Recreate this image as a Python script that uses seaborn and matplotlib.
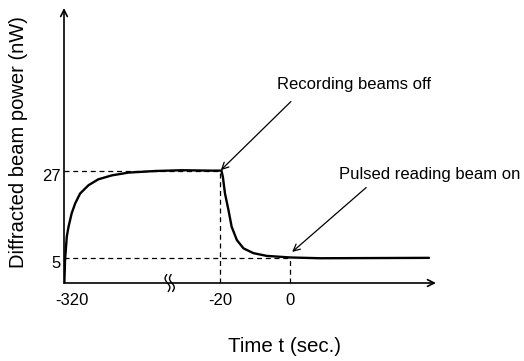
import matplotlib
matplotlib.use("Agg")
import matplotlib.pyplot as plt
import matplotlib.transforms as mtransforms
import seaborn as sns
import pandas as pd
import numpy as np

# x is in axis units of the broken time axis (left segment compressed; -320 s sits at -64.6)
t_axis = [-64.5, -64.3, -63.8, -63.3, -62.4, -61.4, -60.0, -57.6, -54.8, -50.9,
          -46.2, -38.6, -31.0, -22.9, -19.6,
          -19.2, -18.6, -17.6, -16.7, -15.2, -13.3, -10.5, -6.7, 0.0, 8.6, 39.7]
power = [-1.27, 4.6, 10.5, 13.0, 16.4, 18.9, 21.4, 23.5, 25.0, 26.0,
         26.7, 27.1, 27.3, 27.2, 27.2,
         25.6, 21.4, 17.2, 13.0, 9.6, 7.5, 6.3, 5.6, 5.2, 5.0, 5.1]
xtick_pos = [-64.6, -20.0, 0.0]
xtick_labels = ["-320", "-20", "0"]
ytick_vals = [5, 27]
off_event = (-20.0, 27.0)
on_event = (0.0, 5.0)
break_pos = -34.4

sns.set_style("white")
plt.rcParams["font.family"] = ["Liberation Sans", "DejaVu Sans"]
plt.rcParams.update({"text.color": "black", "axes.labelcolor": "black",
                     "xtick.color": "black", "ytick.color": "black"})

fig = plt.figure(figsize=(5.24, 3.61), dpi=100)
ax = fig.add_axes([64 / 524, 1 - 283 / 361, (436 - 64) / 524, (283 - 8) / 361])

df = pd.DataFrame({"t": t_axis, "p": power})
sns.lineplot(data=df, x="t", y="p", ax=ax, color="black", lw=1.7, sort=False)
ax.lines[-1].set_solid_joinstyle("round")

xmin, xmax = -64.6, 41.7
ymin, ymax = -1.27, 68.4
ax.set_xlim(xmin, xmax)
ax.set_ylim(ymin, ymax)

dash = dict(color="black", lw=0.9, ls=(0, (4, 3)))
ax.plot([xmin, off_event[0]], [off_event[1]] * 2, **dash)
ax.plot([off_event[0]] * 2, [ymin, off_event[1]], **dash)
ax.plot([xmin, on_event[0]], [on_event[1]] * 2, **dash)
ax.plot([on_event[0]] * 2, [ymin, on_event[1]], **dash)

for sp in ax.spines.values():
    sp.set_visible(False)
arr = dict(arrowstyle="->", lw=1.2, color="black", shrinkA=0, shrinkB=0, mutation_scale=12)
ax.annotate("", xy=(0, 1), xytext=(0, 0), xycoords="axes fraction", arrowprops=arr)
ax.annotate("", xy=(1, 0), xytext=(0, 0), xycoords="axes fraction", arrowprops=arr)

# axis break mark (two small wavy strokes), drawn in pixel offsets around the break position
anchor = mtransforms.ScaledTranslation(break_pos, ymin, ax.transData)
trans = mtransforms.Affine2D().scale(0.72) + mtransforms.Affine2D().scale(1 / 72) \
    + fig.dpi_scale_trans + anchor
s = np.linspace(0, 1, 40)
for xoff in (-2.2, 2.2):
    xs = xoff - 2.0 * np.sin(2 * np.pi * s) + (s - 0.5) * 1.5
    ys = 8.5 - 17 * s
    ax.plot(xs, ys, color="black", lw=1.0, transform=trans, clip_on=False)

ax.set_xticks(xtick_pos)
ax.set_xticklabels(xtick_labels)
ax.set_yticks(ytick_vals)
ax.set_yticklabels([str(v) for v in ytick_vals])
ax.tick_params(axis="x", length=0, labelsize=12, pad=7.5, labelcolor="black")
ax.tick_params(axis="y", length=0, labelsize=12, pad=2.5, labelcolor="black")
fig.canvas.draw()
lab0 = ax.get_xticklabels()[0]
lab0.set_transform(lab0.get_transform() + mtransforms.ScaledTranslation(0.08, 0, fig.dpi_scale_trans))
for lab in ax.get_yticklabels():
    lab.set_transform(lab.get_transform() + mtransforms.ScaledTranslation(0, -0.04, fig.dpi_scale_trans))

ax.set_xlabel("Time t (sec.)", fontsize=14.8, color="black")
ax.xaxis.set_label_coords((284 - 64) / 372, -(347 - 283) / 275)
ax.xaxis.label.set_va("center")
ax.set_ylabel("Diffracted beam power (nW)", fontsize=14.5, color="black")
ax.yaxis.set_label_coords(-(64 - 19) / 372, (283 - 142) / 275)
ax.yaxis.label.set_va("center")

ax.annotate("Recording beams off", xy=(off_event[0] + 0.2, off_event[1] + 0.3),
            xytext=(18.3, 48.9), ha="center", va="center", fontsize=12, color="black",
            annotation_clip=False,
            arrowprops=dict(arrowstyle="->", lw=0.9, color="black", shrinkA=6, shrinkB=0,
                            mutation_scale=12, relpos=(0.15, 0.0)))
ax.annotate("Pulsed reading beam on", xy=(0.6, 6.6), xytext=(40.0, 26.1),
            ha="center", va="center", fontsize=12, color="black", annotation_clip=False,
            arrowprops=dict(arrowstyle="->", lw=0.9, color="black", shrinkA=2, shrinkB=0,
                            mutation_scale=12, relpos=(0.18, 0.0)))

fig.savefig("out.png", dpi=100)
